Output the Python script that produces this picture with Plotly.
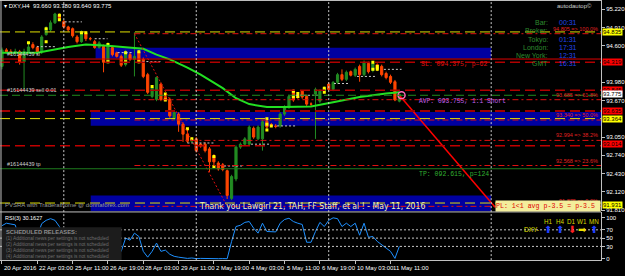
import plotly.graph_objects as go

W, H = 625, 276
PLOT_W = 603
XMIN, XMAX = -0.45, 135.67
PMIN, PMAX = 91.788, 95.377
RMIN, RMAX = -3.1, 112.0

# ---------------- data ----------------
opens = [94.25, 94.53, 94.50, 94.49, 94.50, 94.33, 94.50, 94.62, 94.57, 94.50,
         94.79, 94.87, 94.99, 95.12, 95.01, 94.92, 94.89, 94.75, 94.67, 94.82,
         94.72, 94.67, 94.57, 94.59, 94.32, 94.57, 94.48, 94.42, 94.28, 94.45,
         94.37, 94.50, 94.37, 94.11, 93.74, 93.69, 93.95, 93.74, 93.69, 93.36,
         93.44, 93.27, 93.10, 92.98, 93.02, 92.93, 92.93, 92.85, 92.73, 92.61,
         92.58, 92.48, 92.01, 92.34, 92.88, 92.93, 92.93, 93.20, 93.02, 93.02,
         93.32, 93.26, 93.24, 93.24, 93.44, 93.56, 93.84, 93.74, 93.83, 93.74,
         93.61, 93.78, 93.66, 93.83, 93.95, 93.86, 93.98, 94.11, 94.03, 94.16,
         94.10, 94.25, 94.11, 94.30, 94.18, 94.28, 94.25, 94.13, 94.08, 93.99,
         93.660]
highs = [94.57, 94.56, 94.54, 94.55, 94.53, 94.55, 94.66, 94.66, 94.60, 94.78,
         94.93, 95.03, 95.16, 95.15, 95.04, 94.94, 94.91, 94.78, 94.86, 94.85,
         94.75, 94.70, 94.68, 94.62, 94.66, 94.60, 94.50, 94.45, 94.53, 94.49,
         94.83, 94.53, 94.40, 94.14, 93.93, 94.08, 93.98, 93.78, 93.72, 93.50,
         93.47, 93.30, 93.19, 93.05, 93.05, 92.95, 92.96, 92.88, 92.76, 92.64,
         92.61, 92.50, 92.41, 92.91, 92.96, 93.05, 93.25, 93.23, 93.25, 93.34,
         93.36, 93.29, 93.27, 93.47, 93.59, 93.77, 93.86, 93.79, 93.85, 93.77,
         93.64, 93.89, 93.86, 93.91, 93.98, 94.00, 94.14, 94.20, 94.18, 94.18,
         94.23, 94.28, 94.35, 94.33, 94.33, 94.30, 94.28, 94.16, 94.11, 94.02,
         93.780]
lows = [94.20, 94.47, 94.44, 94.46, 94.28, 93.86, 94.47, 94.54, 94.45, 94.46,
        94.77, 94.84, 94.97, 95.02, 94.89, 94.84, 94.74, 94.64, 94.65, 94.68,
        94.69, 94.55, 94.55, 94.15, 94.30, 94.42, 94.40, 94.24, 94.25, 94.34,
        94.08, 94.30, 94.05, 93.78, 93.71, 93.66, 93.66, 93.66, 93.38, 93.33,
        93.14, 92.97, 92.95, 92.95, 92.79, 92.87, 92.79, 92.46, 92.55, 92.48,
        92.47, 92.00, 91.98, 92.30, 92.85, 92.90, 92.90, 93.02, 93.00, 92.82,
        93.17, 93.22, 93.20, 93.21, 93.41, 93.53, 93.65, 93.70, 93.70, 93.58,
        93.58, 93.02, 93.63, 93.80, 93.83, 93.83, 93.95, 94.00, 94.00, 94.08,
        94.07, 93.99, 94.08, 94.13, 94.15, 94.17, 94.08, 94.03, 93.95, 93.66,
        93.640]
closes = [94.53, 94.50, 94.48, 94.50, 94.32, 94.50, 94.58, 94.57, 94.48, 94.75,
          94.90, 94.99, 95.14, 95.06, 94.92, 94.87, 94.77, 94.67, 94.84, 94.72,
          94.72, 94.57, 94.65, 94.32, 94.62, 94.45, 94.42, 94.27, 94.50, 94.37,
          94.42, 94.33, 94.08, 93.81, 93.89, 94.06, 93.69, 93.69, 93.41, 93.47,
          93.27, 93.10, 92.98, 93.02, 92.82, 92.90, 92.82, 92.63, 92.63, 92.51,
          92.50, 92.06, 92.38, 92.88, 92.93, 93.02, 93.22, 93.05, 93.22, 93.31,
          93.22, 93.25, 93.23, 93.44, 93.56, 93.74, 93.68, 93.72, 93.73, 93.61,
          93.61, 93.86, 93.83, 93.88, 93.86, 93.98, 94.11, 94.03, 94.15, 94.10,
          94.20, 94.11, 94.32, 94.16, 94.30, 94.20, 94.11, 94.06, 93.98, 93.68,
          93.775]
bar_idx = list(range(len(opens)))

rsi = [80, 86, 84, 82, 45, 62, 70, 66, 55, 85,
       93, 97, 93, 78, 55, 45, 35, 25, 50, 40,
       40, 28, 40, 20, 55, 40, 35, 18, 50, 45,
       62, 54, 18, 4, 18, 38, 18, 21, 11, 6,
       4, 2, 1, 2, 0.5, 1, 0.5, 0.3, 0.5, 0.3,
       0.5, 0.2, 42, 78, 81, 88, 90, 74, 62, 86,
       66, 66, 65, 86, 95, 98, 90, 86, 83, 40,
       40, 66, 88, 78, 93, 99, 97, 78, 86, 78,
       86, 57, 86, 52, 54, 42, 35, 26, 18, 1,
       30.1627]

ma_idx = [0, 8, 15, 19, 24, 29, 32, 35, 38, 42, 45, 50, 53, 56, 60, 64, 70, 75, 81, 87, 90]
ma_val = [94.48, 94.48, 94.58, 94.62, 94.60, 94.57, 94.55, 94.45, 94.37, 94.23, 94.11,
          93.88, 93.71, 93.61, 93.56, 93.56, 93.57, 93.64, 93.73, 93.79, 93.81]

yellow_idx = [6, 10, 10, 13, 13, 18, 19, 24, 24, 28, 28, 31, 31, 34, 37, 37, 42, 43, 48, 48,
              60, 60, 60, 61, 66, 66, 67, 67, 73, 73, 84, 84, 85, 85]
yellow_px = [94.65, 94.89, 94.67, 95.12, 95.04, 94.82, 94.82, 94.62, 94.33, 94.48, 94.33,
             94.50, 94.33, 93.91, 93.78, 93.68, 93.19, 93.02, 92.72, 92.55, 93.36, 93.27,
             93.17, 93.24, 93.83, 93.74, 93.79, 93.74, 93.88, 93.81, 94.32, 94.20, 94.25, 94.20]

seg_start = [7.9, 14.2, 21.0, 26.2, 31.8, 42.0, 50.3, 56.4, 62.3, 66.6, 75.2, 80.4, 86.5]
seg_end = [12.0, 18.1, 23.9, 29.6, 36.3, 48.0, 54.4, 60.5, 66.6, 71.8, 78.6, 84.7, 90.5]
seg_price = [94.585, 95.006, 94.72, 94.484, 94.332, 92.95, 92.56, 92.93, 93.24, 93.76,
             93.96, 94.08, 94.20]

date_labels = ["20 Apr 2016", "22 Apr 03:00", "25 Apr 11:00", "26 Apr 19:00", "28 Apr 03:00",
               "29 Apr 11:00", "2 May 19:00", "4 May 03:00", "5 May 11:00", "6 May 19:00",
               "10 May 03:00", "11 May 11:00"]
date_label_idx = [0, 8, 16, 24, 32, 40, 48, 56, 64, 72, 80, 88]

price_ticks = [95.220, 94.910, 94.600, 93.980, 93.670, 93.050, 92.740, 92.430, 92.120, 91.810]
rsi_ticks = [100, 70, 50, 30, 0]
rsi_levels = [70, 50, 30]

fib_levels = [94.805, 93.685, 93.340, 92.994, 92.568, 91.875]
fib_pct = ["100.0%", "61.8%", "50.0%", "38.2%", "23.6%", "0.0%"]
fib_start_idx, fib_end_idx = 30, 51

# horizontal lines: price, colour, dash, width
hlines = [
    (94.835, "#E0E000", "10px,5px", 1),
    (94.375, "#E00000", "solid", 1),
    (94.319, "#B00000", "10px,5px", 1.5),
    (93.845, "#B00000", "10px,5px", 1.5),
    (93.760, "#1E8C1E", "8px,4px", 1),
    (93.495, "#A00000", "10px,5px", 2),
    (93.364, "#E0E000", "10px,5px", 1),
    (92.905, "#C00000", "10px,5px", 1.5),
    (92.513, "#1E7A1E", "solid", 1),
    (91.931, "#E0E000", "10px,5px", 1),
]

# axis price boxes: position, text, background
axis_boxes = [
    (94.835, "94.835", "#FFFF00"),
    (94.319, "94.319", "#FF0000"),
    (93.845, "93.845", "#FF0000"),
    (93.776, "93.775", "#FFFFFF"),
    (93.495, "93.635", "#FF0000"),
    (93.364, "93.364", "#FFFF00"),
    (92.937, "93.014", "#FF0000"),
    (91.906, "91.931", "#FFFF00"),
]

band_x0 = [21.2, 20.1, 20.1]
band_x1 = [110.8, XMAX, 110.8]
band_lo = [94.383, 93.242, 91.79]
band_hi = [94.568, 93.478, 92.058]

sep_idx = [14, 44, 74, 110.8]

sl_price, sl_pips = 94.375, 62
tp_line, tp_price, tp_pips = 92.513, 92.615, 124
avp_price = 93.755
order_id = "#16144439"
pl_line_idx = [90, 111.7]
pl_line_price = [93.76, 91.86]

info_labels = ["Bar:", "Broker:", "Tokyo:", "London:", "New York:", "GMT"]
info_values = ["00:31", "", "01:31", "17:31", "12:31", "16:31"]

tf_names = ["H1", "H4", "D1", "W1", "MN"]
tf_dirs = ["up", "up", "down", "right", "up"]

news_lines = ["(1) Additional news per settings is not scheduled",
              "(2) Additional news per settings is not scheduled",
              "(3) Additional news per settings is not scheduled",
              "(4) Additional news per settings is not scheduled"]

# ---------------- helpers ----------------
def pxx(px):
    return px / PLOT_W

def pxy(py):
    return 1 - py / H

SANS = "Liberation Sans, Arial, sans-serif"
NARROW = "Liberation Sans Narrow, Arial Narrow, DejaVu Sans Condensed, Liberation Sans, sans-serif"
MONO = "Liberation Mono, Courier New, monospace"

fig = go.Figure()

fig.add_trace(go.Candlestick(
    x=bar_idx, open=opens, high=highs, low=lows, close=closes,
    increasing=dict(line=dict(color="#228B22", width=1), fillcolor="#228B22"),
    decreasing=dict(line=dict(color="#FF4500", width=1), fillcolor="#FF4500"),
    whiskerwidth=0, xaxis="x", yaxis="y", hoverinfo="skip", showlegend=False))

fig.add_trace(go.Scatter(x=yellow_idx, y=yellow_px, mode="markers",
                         marker=dict(symbol="square", size=3, color="#FFFF00"),
                         xaxis="x", yaxis="y", hoverinfo="skip", showlegend=False))

sx, sy = [], []
for a, b, p in zip(seg_start, seg_end, seg_price):
    sx += [a, b, None]
    sy += [p, p, None]
fig.add_trace(go.Scatter(x=sx, y=sy, mode="lines",
                         line=dict(color="#C8C8C8", width=1, dash="2px,2px"),
                         xaxis="x", yaxis="y", hoverinfo="skip", showlegend=False))

fig.add_trace(go.Scatter(x=ma_idx, y=ma_val, mode="lines",
                         line=dict(color="#22E022", width=2),
                         xaxis="x", yaxis="y", hoverinfo="skip", showlegend=False))

fig.add_trace(go.Scatter(x=[fib_start_idx, fib_end_idx], y=[fib_levels[0], fib_levels[-1]],
                         mode="lines", line=dict(color="#E01010", width=1, dash="2px,2px"),
                         xaxis="x", yaxis="y", hoverinfo="skip", showlegend=False))

fig.add_trace(go.Scatter(x=pl_line_idx, y=pl_line_price, mode="lines",
                         line=dict(color="#FF0000", width=1.5),
                         xaxis="x", yaxis="y", hoverinfo="skip", showlegend=False))

fig.add_trace(go.Scatter(x=[pl_line_idx[0] + 0.5], y=[pl_line_price[0]], mode="markers",
                         marker=dict(symbol="circle-open", size=7, color="#FF69B4",
                                     line=dict(width=1.5, color="#FF69B4")),
                         xaxis="x", yaxis="y", hoverinfo="skip", showlegend=False))

fig.add_trace(go.Scatter(x=bar_idx, y=rsi, mode="lines",
                         line=dict(color="#1E90FF", width=1),
                         xaxis="x", yaxis="y2", hoverinfo="skip", showlegend=False))

shapes = []
for x0, x1, lo, hi in zip(band_x0, band_x1, band_lo, band_hi):
    shapes.append(dict(type="rect", xref="x", yref="y", x0=x0, x1=x1, y0=lo, y1=hi,
                       fillcolor="#0000A0", line=dict(width=0), layer="below"))
for p, c, d, w in hlines:
    shapes.append(dict(type="line", xref="paper", yref="y", x0=0, x1=1, y0=p, y1=p,
                       line=dict(color=c, width=w, dash=d)))
for lv in fib_levels:
    shapes.append(dict(type="line", xref="x", yref="y", x0=fib_start_idx, x1=XMAX, y0=lv, y1=lv,
                       line=dict(color="#E01010", width=1, dash="6px,3px,2px,3px")))
for lv in rsi_levels:
    shapes.append(dict(type="line", xref="paper", yref="y2", x0=0, x1=1, y0=lv, y1=lv,
                       line=dict(color="#C8C8C8", width=1, dash="2px,2px")))
for s in sep_idx:
    shapes.append(dict(type="line", xref="x", yref="paper", x0=s, x1=s,
                       y0=pxy(262), y1=1, line=dict(color="#C8C8C8", width=1, dash="2px,2px")))
# frame lines
shapes.append(dict(type="line", xref="paper", yref="paper", x0=0, x1=1, y0=pxy(0.5), y1=pxy(0.5),
                   line=dict(color="#C0C0C0", width=1)))
shapes.append(dict(type="line", xref="paper", yref="paper", x0=pxx(1), x1=pxx(1), y0=pxy(262), y1=1,
                   line=dict(color="#C0C0C0", width=1)))
shapes.append(dict(type="line", xref="paper", yref="paper", x0=0, x1=1, y0=pxy(213.5), y1=pxy(213.5),
                   line=dict(color="#C0C0C0", width=1)))
# news box
shapes.append(dict(type="rect", xref="paper", yref="paper", x0=pxx(2), x1=pxx(122),
                   y0=pxy(262), y1=pxy(229), fillcolor="#1C1C1C", line=dict(width=0)))

ann = []
def text(x, y, t, size=7, color="#FFFFFF", xanchor="left", yanchor="middle", family=SANS,
         xref="paper", yref="paper", **kw):
    d = dict(x=x, y=y, xref=xref, yref=yref, text=t, showarrow=False, xanchor=xanchor,
             yanchor=yanchor, font=dict(size=size, color=color, family=family))
    d.update(kw)
    ann.append(d)

# header
text(pxx(2), pxy(6), "▾ DXY,H4  %.3f %.3f %.3f %.3f" % (opens[-1], highs[-1], lows[-1], closes[-1]),
     size=6, color="#FFFFFF")
text(pxx(596), pxy(6), "autodautop©", size=6, color="#D0D0D0", xanchor="right")

# info panel
info_y = [22.7, 31, 40, 48.3, 56, 64.3]
for lab, val, yy in zip(info_labels, info_values, info_y):
    text(pxx(552), pxy(yy), lab, size=7, color="#2E8B2E", xanchor="right")
    if val:
        text(pxx(559), pxy(yy), val, size=7, color="#2046E8")

# fib texts
for lv, pc in zip(fib_levels, fib_pct):
    text(pxx(602), lv, "%.3f => %s" % (lv, pc), size=5.5, color="#E02020", xanchor="right",
         yanchor="bottom", yref="y")

# order texts
text(pxx(420), sl_price, "SL: 0%.3f, p=%d" % (sl_price, sl_pips), size=6.5, color="#E01010",
     yanchor="top", yref="y", family=MONO)
text(pxx(418), avp_price, "AVP: 0%.3f, 1:1 Short" % avp_price, size=6.3, color="#C060F0",
     yanchor="top", yref="y", family=MONO)
text(pxx(418), tp_line, "TP: 0%.3f, p=%d" % (tp_price, tp_pips), size=6.5, color="#30B030",
     yanchor="top", yref="y", family=MONO)
text(pxx(5), sl_price, order_id + " sl", size=5.5, color="#D0D0D0", yanchor="bottom", yref="y")
text(pxx(5), 93.76, order_id + " sell 0.01", size=5.5, color="#D0D0D0", yanchor="bottom", yref="y")
text(pxx(5), tp_line, order_id + " tp", size=5.5, color="#D0D0D0", yanchor="bottom", yref="y")

# bottom banner
text(pxx(198), pxy(207), "Thank you Lawgirl 21, TAH, FF Staff, et al ! - May 11, 2016",
     size=8.6, color="#F2F2B8", family=NARROW)
text(pxx(3), pxy(206), "PVSRA with Traderathome @ donnaforex.com", size=6, color="#9A9A9A")
text(pxx(497), pxy(207.5), "PL: 1&lt;1 avg p-3.5 = p-3.5", size=6.6, color="#E00000",
     family=MONO, bgcolor="#F3EE9C", width=104, height=10, align="left", borderpad=0)

# axis price boxes
for p, t, bg in axis_boxes:
    text(pxx(604), p, t, size=6, color="#000000", yref="y", bgcolor=bg, borderpad=0)

# RSI pane texts
text(pxx(3), pxy(219.5), "RSI(3) %.4f" % rsi[-1], size=5.5, color="#FFFFFF")
text(pxx(4), pxy(233.5), "<b>SCHEDULED RELEASES:</b>", size=5.8, color="#8C8C8C")
for k, ln in enumerate(news_lines):
    text(pxx(4), pxy(240 + 6.2 * k), ln, size=4.8, color="#6E6E6E")

tf_x = [550, 562, 573.5, 584, 595.5]
arrow_glyph = {"up": "⬆", "down": "⬇", "right": "➡"}
arrow_col = {"up": "#2040FF", "down": "#FF2020", "right": "#F0E000"}
for nm, dr, xx in zip(tf_names, tf_dirs, tf_x):
    text(pxx(xx), pxy(222.7), nm, size=6.3, color="#D8D800", xanchor="center")
    text(pxx(xx), pxy(231), arrow_glyph[dr], size=10, color=arrow_col[dr], xanchor="center",
         family="DejaVu Sans")
text(pxx(543), pxy(231), "DXY-", size=6.5, color="#E0E000", xanchor="right")

# date labels
for lab, idx in zip(date_labels, date_label_idx):
    text(idx, pxy(270), lab, size=6, color="#FFFFFF", xref="x")

fig.update_layout(
    width=W, height=H, margin=dict(l=0, r=W - PLOT_W, t=0, b=0),
    paper_bgcolor="#000000", plot_bgcolor="#000000", showlegend=False,
    xaxis=dict(range=[XMIN, XMAX], anchor="y2", showgrid=False, zeroline=False,
               rangeslider=dict(visible=False), tickvals=date_label_idx,
               showticklabels=False, ticks="outside", ticklen=3, tickcolor="#C0C0C0",
               showline=True, linecolor="#C0C0C0", linewidth=1),
    yaxis=dict(domain=[1 - 213 / H, 1], range=[PMIN, PMAX], side="right", anchor="x",
               showgrid=False, zeroline=False, tickvals=price_ticks,
               ticktext=["%.3f" % v for v in price_ticks], ticks="outside", ticklen=3,
               tickcolor="#C0C0C0", tickfont=dict(size=6, color="#FFFFFF", family=SANS),
               showline=True, linecolor="#C0C0C0", linewidth=1),
    yaxis2=dict(domain=[1 - 262 / H, 1 - 214 / H], range=[RMIN, RMAX], side="right",
                anchor="x", showgrid=False, zeroline=False, tickvals=rsi_ticks,
                ticks="outside", ticklen=3, tickcolor="#C0C0C0",
                tickfont=dict(size=6, color="#FFFFFF", family=SANS),
                showline=True, linecolor="#C0C0C0", linewidth=1),
    shapes=shapes, annotations=ann,
)

fig.write_html("out.html")
